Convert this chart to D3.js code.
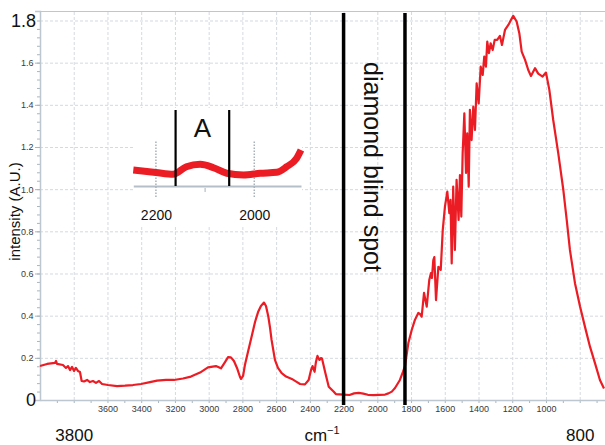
<!DOCTYPE html>
<html>
<head>
<meta charset="utf-8">
<script src="https://cdn.jsdelivr.net/npm/d3@7"></script>
<style>
  body { margin: 0; background: #fff; }
  svg { display: block; font-family: "Liberation Sans", Arial, sans-serif; }
</style>
</head>
<body>
<svg id="chart" width="605" height="445"></svg>
<script>
// ATR-IR spectrum: wavenumber (cm-1) and intensity (A.U.)
const wavenumbers = [
  4000,3958,3911,3905,3899,3864,3846,3834,3822,3810,3798,3787,3775,3763,3753,3739,3721,3704,3686,3668,
  3650,3632,3597,3543,3496,3449,3401,3348,3306,3253,3206,3152,3105,3051,3004,2957,2927,2903,2885,2868,
  2850,2832,2814,2808,2796,2785,2767,2743,2725,2707,2690,2672,2660,2646,2636,2627,2607,2589,2567,2541,
  2507,2476,2458,2429,2407,2393,2384,2372,2364,2355,2343,2334,2328,2308,2288,2258,
  2246,2200,2165,2138,2110,2083,2056,2022,1988,1954,1934,1914,1905,
  1895,1866,1848,1836,1816,1796,1777,1757,1747,1737,1723,1707,1692,1682,1676,1668,1662,1652,1638,1624,
  1612,1599,1585,1573,1566,1559,1550,1540,1530,1518,1510,1502,1494,1484,1474,1467,1458,1451,1441,1431,
  1421,1411,1399,1387,1375,1366,1356,1348,1338,1328,1316,1304,1289,1273,1261,1243,1223,1207,1194,1174,
  1158,1144,1124,1105,1089,1065,1046,1020,1000,980,957,927,897,877,858,828,798,769,739,709,680,656
];
const intensity = [
  0.161,0.171,0.176,0.185,0.171,0.166,0.152,0.161,0.142,0.157,0.138,0.152,0.138,0.133,0.090,0.088,0.095,0.085,0.090,0.081,
  0.090,0.076,0.071,0.066,0.068,0.071,0.076,0.085,0.092,0.095,0.095,0.102,0.111,0.130,0.155,0.161,0.150,0.180,0.203,0.202,
  0.185,0.152,0.109,0.100,0.114,0.166,0.228,0.308,0.370,0.417,0.446,0.462,0.446,0.395,0.342,0.285,0.190,0.152,0.127,0.111,
  0.100,0.085,0.076,0.074,0.095,0.142,0.161,0.134,0.180,0.209,0.190,0.199,0.197,0.128,0.063,0.039,
  0.028,0.0256,0.0237,0.0313,0.0337,0.0303,0.0247,0.023,0.0247,0.0257,0.0313,0.0397,0.048,
  0.057,0.095,0.133,0.161,0.270,0.332,0.380,0.413,0.408,0.395,0.508,0.443,0.569,0.602,0.579,0.664,0.678,0.474,0.632,0.617,
  0.806,0.917,0.988,0.886,0.949,0.648,1.012,0.712,1.044,0.854,1.067,0.870,1.170,1.360,1.077,1.265,1.012,1.376,1.233,1.391,
  1.281,1.502,1.407,1.581,1.542,1.629,1.581,1.700,1.645,1.692,1.660,1.708,1.708,1.727,1.684,1.755,1.779,1.803,1.822,1.795,
  1.740,1.652,1.613,1.565,1.537,1.574,1.548,1.534,1.553,1.471,1.328,1.170,0.996,0.854,0.712,0.554,0.443,0.348,0.253,0.174,0.095,0.055
];

// axis tick labels
const xTickLabels = [3600,3400,3200,3000,2800,2600,2400,2200,2000,1800,1600,1400,1200,1000];
const xEndLabels = [3800, 800];
const yTickLabels = [0.2,0.4,0.6,0.8,1.0,1.2,1.4,1.6];
const yEndLabels = [0, 1.8];

// diamond blind spot limits and the zoomed window "A"
const blindSpot = [2200, 1836];
const insetWindow = [2246, 1905];
const insetTickLabels = [2200, 2000];
const insetMinorTicks = [2100];
const bandA = [2160, 2051];

const plot = { left: 40, right: 605, top: 11, bottom: 400 };
const svg = d3.select('#chart');

const x = d3.scaleLinear().domain([4000, 650]).range([plot.left, plot.right]);
const y = d3.scaleLinear().domain([0, 1.845]).range([plot.bottom, plot.top]);

const spectrum = wavenumbers.map((w, i) => ({ w, v: intensity[i] }));

const gridColor = '#d4dae0';
const axisColor = '#bcc7cf';
const red = '#ec1c24';

// grid
const gridVals = d3.range(3800, 799, -200);
const gx = svg.append('g').attr('transform', `translate(0,${plot.bottom})`)
  .call(d3.axisBottom(x).tickValues(gridVals).tickSize(-(plot.bottom - plot.top)).tickFormat(''));
gx.select('.domain').remove();
gx.selectAll('line').attr('stroke', gridColor).attr('stroke-dasharray', '3,2');

const gy = svg.append('g').attr('transform', `translate(${plot.left},0)`)
  .call(d3.axisLeft(y).tickValues(yTickLabels.concat([1.8])).tickSize(-(plot.right - plot.left)).tickFormat(''));
gy.select('.domain').remove();
gy.selectAll('line').attr('stroke', gridColor).attr('stroke-dasharray', '3,2');

// frame top edge
svg.append('line').attr('x1', plot.left).attr('x2', plot.right).attr('y1', plot.top + 0.5).attr('y2', plot.top + 0.5)
  .attr('stroke', axisColor).attr('stroke-width', 1);

// x axis minor ticks (every 100 cm-1)
const xMinor = svg.append('g').attr('transform', `translate(0,${plot.bottom})`)
  .call(d3.axisBottom(x).tickValues(d3.range(3900, 650, -100)).tickSize(3).tickFormat(''));
xMinor.select('.domain').remove();
xMinor.selectAll('line').attr('stroke', '#a9b5be');

// x axis small labels
const xAxis = svg.append('g').attr('transform', `translate(0,${plot.bottom})`)
  .call(d3.axisBottom(x).tickValues(xTickLabels).tickSize(0).tickPadding(5.5).tickFormat(d3.format('d')));
xAxis.select('.domain').attr('stroke', axisColor).attr('stroke-width', 1.5);
xAxis.selectAll('text').attr('font-size', 9).attr('fill', '#3a3a3a')
  .attr('font-family', '"Liberation Sans Narrow", "Liberation Sans", Arial, sans-serif');

// x axis end labels
const xEnds = svg.append('g').attr('transform', `translate(0,${plot.bottom})`)
  .call(d3.axisBottom(x).tickValues(xEndLabels).tickSize(0).tickPadding(28.5).tickFormat(d3.format('d')));
xEnds.select('.domain').remove();
xEnds.selectAll('text').attr('font-size', 17).attr('fill', '#111');

// y axis minor ticks
const yMinor = svg.append('g').attr('transform', `translate(${plot.left},0)`)
  .call(d3.axisLeft(y).tickValues(d3.range(0.04, 1.84, 0.04)).tickSize(3).tickFormat(''));
yMinor.select('.domain').remove();
yMinor.selectAll('line').attr('stroke', '#a9b5be');

// y axis small labels
const yAxis = svg.append('g').attr('transform', `translate(${plot.left},0)`)
  .call(d3.axisLeft(y).tickValues(yTickLabels).tickSize(5).tickPadding(1.5).tickFormat(d3.format('.1f')));
yAxis.select('.domain').attr('stroke', axisColor).attr('stroke-width', 1.5);
yAxis.selectAll('line').attr('stroke', '#a9b5be');
yAxis.selectAll('text').attr('font-size', 9).attr('fill', '#3a3a3a')
  .attr('font-family', '"Liberation Sans Narrow", "Liberation Sans", Arial, sans-serif');

// y axis end labels
const yEnds = svg.append('g').attr('transform', `translate(${plot.left},0)`)
  .call(d3.axisLeft(y).tickValues(yEndLabels).tickSize(0).tickPadding(4).tickFormat(d => d === 0 ? '0' : d3.format('.1f')(d)));
yEnds.select('.domain').remove();
yEnds.selectAll('text').attr('font-size', 18).attr('fill', '#111');

// axis titles
svg.append('text')
  .attr('transform', `translate(20,${(163 + 260) / 2}) rotate(-90)`)
  .attr('text-anchor', 'middle').attr('font-size', 15).attr('fill', '#111')
  .text('intensity (A.U.)');

const cm = svg.append('text').attr('x', 322).attr('y', 440.5)
  .attr('text-anchor', 'middle').attr('font-size', 17).attr('fill', '#111');
cm.append('tspan').text('cm');
cm.append('tspan').attr('font-size', 11).attr('dy', -7).text('\u22121');

// inset showing the zoomed window "A"
const ix = d3.scaleLinear().domain(insetWindow).range([133.3, 301]);
const iy = d3.scaleLinear().domain([0.012, 0.052]).range([186, 146]);

svg.append('rect').attr('x', 133).attr('y', 108).attr('width', 169).attr('height', 117).attr('fill', '#fff');

const ig = svg.append('g').attr('transform', 'translate(0,186)')
  .call(d3.axisBottom(ix).tickValues(insetTickLabels).tickSize(0).tickPadding(24.5).tickFormat(d3.format('d')));
ig.select('.domain').attr('stroke', '#b4bfc7').attr('stroke-width', 2);
ig.selectAll('text').attr('font-size', 14).attr('fill', '#111');

svg.append('g').selectAll('line').data(insetTickLabels).join('line')
  .attr('x1', d => ix(d)).attr('x2', d => ix(d)).attr('y1', 141.5).attr('y2', 198.5)
  .attr('stroke', '#a7b1ba').attr('stroke-width', 1.5).attr('stroke-dasharray', '1.5,1.5');

svg.append('g').selectAll('line').data(insetMinorTicks).join('line')
  .attr('x1', d => ix(d)).attr('x2', d => ix(d)).attr('y1', 188).attr('y2', 192)
  .attr('stroke', '#a7b1ba').attr('stroke-width', 1);

const insetData = spectrum.filter(d => d.w <= insetWindow[0] && d.w >= insetWindow[1]);
svg.append('path').datum(insetData)
  .attr('d', d3.line().x(d => ix(d.w)).y(d => iy(d.v)).curve(d3.curveMonotoneX))
  .attr('fill', 'none').attr('stroke', red).attr('stroke-width', 7).attr('stroke-linejoin', 'round');

svg.append('g').selectAll('line').data(bandA).join('line')
  .attr('x1', d => ix(d)).attr('x2', d => ix(d)).attr('y1', 110).attr('y2', 186)
  .attr('stroke', '#000').attr('stroke-width', 2.2);

svg.append('text').attr('x', ix(d3.mean(bandA))).attr('y', 137)
  .attr('text-anchor', 'middle').attr('font-size', 26).attr('fill', '#111').text('A');

// main spectrum trace
svg.append('path').datum(spectrum)
  .attr('d', d3.line().x(d => x(d.w)).y(d => y(d.v)))
  .attr('fill', 'none').attr('stroke', red).attr('stroke-width', 2.2).attr('stroke-linejoin', 'round');

// diamond blind spot boundaries
svg.append('g').selectAll('line').data(blindSpot).join('line')
  .attr('x1', d => x(d)).attr('x2', d => x(d)).attr('y1', 13).attr('y2', 405)
  .attr('stroke', '#000').attr('stroke-width', 3.5);

svg.append('text')
  .attr('transform', `translate(${(x(blindSpot[0]) + x(blindSpot[1])) / 2 - 1},167) rotate(90)`)
  .attr('text-anchor', 'middle').attr('dominant-baseline', 'central')
  .attr('font-size', 25).attr('fill', '#111')
  .text('diamond blind spot');
</script>
</body>
</html>
